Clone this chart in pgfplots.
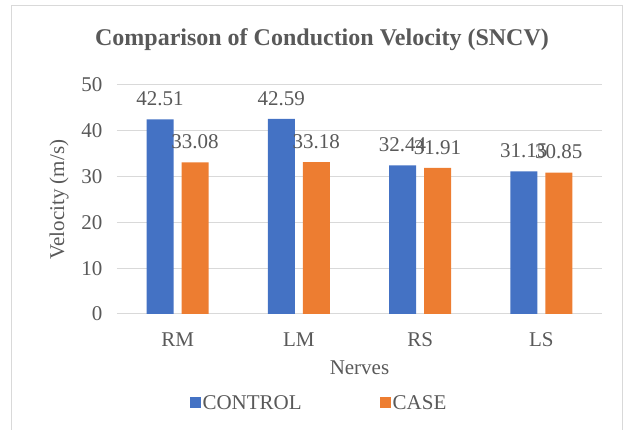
\documentclass[border=0pt]{standalone}
\usepackage{fontspec}
\setmainfont{Liberation Serif}
\usepackage{pgfplots}
\pgfplotsset{compat=1.18}
\definecolor{cblue}{HTML}{4472C4}
\definecolor{corange}{HTML}{ED7D31}
\definecolor{txt}{HTML}{595959}
\definecolor{gridc}{HTML}{D9D9D9}
\begin{document}
\begin{tikzpicture}
\begin{axis}[name=ax,
  anchor=south west,
  scale only axis, width=485pt, height=229pt,
  xmin=-0.5, xmax=3.5, ymin=0, ymax=50,
  ytick={0,10,...,50}, xtick={0,1,2,3},
  xticklabels={RM,LM,RS,LS},
  ymajorgrids, grid style={gridc, line width=1pt},
  axis line style={draw=none},
  major tick length=0,
  tick label style={txt, font=\fontsize{21}{24}\selectfont},
  /pgf/number format/assume math mode=true,
  yticklabel style={anchor=east, xshift=-11pt},
  xticklabel style={anchor=center, yshift=-26pt},
  xlabel={Nerves}, ylabel={Velocity (m/s)},
  label style={txt, font=\fontsize{21}{24}\selectfont},
  xlabel style={at={(axis description cs:0.5,0)}, anchor=center, yshift=-54pt},
  ylabel style={at={(axis description cs:0,0.5)}, anchor=center, yshift=58pt},
  ybar, bar width=27pt,
  nodes near coords,
  every node near coord/.append style={txt, font=\fontsize{21}{24}\selectfont, yshift=10pt},
  nodes near coords style={/pgf/number format/.cd, fixed, precision=2, fixed zerofill, assume math mode=true},
  legend columns=2,
  legend style={at={(0.4165,0)}, anchor=center, yshift=-89pt, draw=none, fill=none,
    font=\fontsize{21}{24}\selectfont, text=txt,
    /tikz/every even column/.append style={column sep=76pt}},
  legend image code/.code={\fill[#1] (-3pt,-5.5pt) rectangle (8pt,5.5pt);},
]
\addplot[fill=cblue, draw=none, bar shift=-17.5pt] coordinates {(0,42.51) (1,42.59) (2,32.44) (3,31.15)};
\addplot[fill=corange, draw=none, bar shift=17.5pt] coordinates {(0,33.08) (1,33.18) (2,31.91) (3,30.85)};
\legend{CONTROL,CASE}
\end{axis}
\begin{scope}[shift={(ax.south west)}, xshift=-117pt, yshift=-116pt, x=1pt, y=1pt]
\draw[gridc, line width=1pt] (12,0) -- (12,424) -- (622,424) -- (622,0);
\node[txt, font=\fontsize{24}{28}\selectfont\bfseries] at (322,390) {Comparison of Conduction Velocity (SNCV)};
\pgfresetboundingbox
\useasboundingbox (0,0) rectangle (633,430);
\end{scope}
\end{tikzpicture}
\end{document}
